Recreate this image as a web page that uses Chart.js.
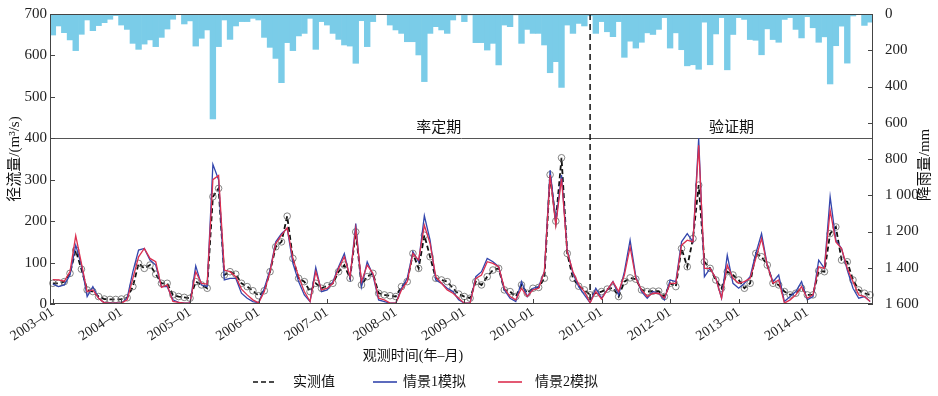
<!DOCTYPE html>
<html>
<head>
<meta charset="utf-8">
<title>径流模拟</title>
<script src="https://cdn.jsdelivr.net/npm/chart.js"></script>
<style>
    html, body { margin: 0; padding: 0; background: #fff; }
    #wrap { width: 938px; height: 396px; }
</style>
</head>
<body>
<div id="wrap"><canvas id="runoffChart" width="938" height="396"></canvas></div>
<script>
// months 2003-01 .. 2014-12
const months = [];
for (let y = 2003; y <= 2014; y++) {
    for (let m = 1; m <= 12; m++) months.push(y + '–' + String(m).padStart(2, '0'));
}

// monthly rainfall, mm
const rainfall = [
    116, 66, 103, 143, 202, 112, 33, 92, 64, 48, 29, 9,
    61, 85, 162, 195, 166, 143, 180, 129, 83, 29, 3, 55,
    38, 177, 134, 88, 579, 180, 33, 140, 66, 42, 42, 24,
    33, 129, 184, 245, 379, 158, 202, 121, 107, 24, 195, 42,
    61, 107, 140, 171, 177, 272, 37, 180, 42, 2, 3, 61,
    88, 107, 153, 153, 226, 373, 107, 70, 88, 107, 33, 5,
    42, 5, 158, 158, 199, 162, 281, 61, 70, 5, 162, 85,
    107, 107, 171, 324, 263, 405, 61, 107, 52, 66, 10, 107,
    42, 98, 125, 42, 239, 150, 188, 156, 104, 113, 85, 20,
    188, 104, 197, 286, 280, 305, 45, 280, 110, 20, 308, 113,
    20, 30, 141, 145, 225, 82, 141, 156, 30, 20, 85, 132,
    15, 76, 156, 126, 386, 175, 67, 271, 11, 2, 63, 45
];

// observed runoff, m3/s
const observed = [
    50, 50, 54, 74, 130, 84, 34, 30, 18, 12, 11, 11,
    12, 15, 42, 98, 86, 94, 72, 50, 50, 22, 18, 16,
    14, 54, 46, 38, 259, 279, 70, 78, 72, 50, 42, 32,
    20, 32, 78, 138, 150, 212, 110, 62, 54, 30, 50, 38,
    44, 50, 78, 94, 62, 174, 46, 66, 74, 26, 22, 20,
    18, 42, 54, 122, 86, 166, 114, 62, 58, 54, 38, 24,
    18, 14, 54, 46, 66, 82, 86, 34, 30, 18, 46, 26,
    38, 40, 62, 312, 200, 353, 122, 62, 43, 34, 22, 26,
    30, 36, 39, 18, 54, 63, 60, 34, 30, 31, 31, 18,
    50, 42, 134, 90, 158, 287, 102, 86, 58, 38, 78, 70,
    58, 38, 50, 122, 114, 94, 50, 46, 30, 22, 26, 38,
    22, 22, 80, 78, 170, 186, 106, 102, 58, 34, 26, 22
];

// scenario 1 simulation
const scenario1 = [
    48, 42, 46, 70, 142, 94, 18, 42, 14, 3, 2, 2,
    2, 14, 78, 130, 134, 106, 94, 42, 42, 10, 4, 2,
    2, 92, 46, 42, 337, 300, 58, 62, 62, 26, 14, 6,
    3, 38, 82, 150, 170, 182, 98, 54, 22, 6, 88, 30,
    34, 54, 90, 122, 62, 194, 42, 102, 70, 10, 6, 2,
    2, 38, 62, 126, 102, 213, 154, 58, 50, 38, 30, 10,
    2, 2, 66, 78, 110, 102, 90, 34, 14, 6, 54, 18,
    38, 42, 78, 323, 198, 311, 130, 74, 42, 22, 3, 38,
    14, 34, 54, 22, 78, 154, 66, 30, 14, 30, 26, 10,
    58, 54, 150, 170, 150, 400, 66, 86, 62, 14, 118, 50,
    38, 50, 66, 122, 170, 94, 54, 70, 6, 18, 30, 54,
    10, 18, 106, 86, 259, 154, 134, 82, 38, 14, 18, 6
];

// scenario 2 simulation
const scenario2 = [
    59, 58, 55, 78, 165, 98, 30, 34, 14, 3, 2, 2,
    2, 10, 62, 114, 134, 110, 102, 40, 46, 6, 4, 2,
    2, 78, 50, 48, 300, 310, 82, 78, 66, 36, 22, 10,
    3, 30, 78, 146, 166, 184, 110, 66, 30, 6, 78, 34,
    38, 50, 86, 114, 66, 182, 54, 94, 74, 14, 10, 2,
    2, 34, 54, 122, 106, 190, 146, 66, 50, 34, 26, 14,
    2, 2, 62, 70, 102, 98, 90, 38, 18, 10, 38, 18,
    34, 38, 78, 311, 190, 303, 126, 78, 47, 30, 3, 30,
    12, 34, 54, 30, 70, 138, 62, 34, 18, 26, 26, 14,
    50, 50, 142, 154, 150, 383, 86, 86, 62, 14, 94, 62,
    50, 54, 62, 110, 158, 94, 50, 58, 2, 10, 22, 42,
    14, 22, 90, 86, 226, 150, 134, 86, 54, 22, 18, 6
];

const splitMonth = '2010–11';
const periodLabels = ['率定期', '验证期'];

const SERIF = "'Liberation Serif', 'Noto Sans CJK SC', serif";
const CJK = "'Noto Sans CJK SC', sans-serif";
Chart.defaults.font.family = SERIF;
Chart.defaults.color = '#222';

// box, inward ticks, split line, titles and legend
const decorations = {
    id: 'decorations',
    afterDatasetsDraw(chart) {
        const { ctx, chartArea: a, scales } = chart;
        ctx.save();

        // dashed split line
        const sx = scales.x.getPixelForValue(months.indexOf(splitMonth));
        ctx.strokeStyle = '#111';
        ctx.lineWidth = 1.5;
        ctx.setLineDash([6, 4]);
        ctx.beginPath();
        ctx.moveTo(sx, a.top);
        ctx.lineTo(sx, a.bottom);
        ctx.stroke();
        ctx.setLineDash([]);

        // frame
        ctx.strokeStyle = '#444';
        ctx.lineWidth = 1;
        ctx.strokeRect(Math.round(a.left) + 0.5, Math.round(a.top) + 0.5,
            Math.round(a.width) - 1, Math.round(a.height) - 1);

        // inward ticks
        ctx.beginPath();
        scales.y.ticks.forEach(t => {
            const py = Math.round(scales.y.getPixelForValue(t.value)) + 0.5;
            ctx.moveTo(a.left, py); ctx.lineTo(a.left + 5, py);
        });
        scales.y2.ticks.forEach(t => {
            const py = Math.round(scales.y2.getPixelForValue(t.value)) + 0.5;
            ctx.moveTo(a.right, py); ctx.lineTo(a.right - 5, py);
        });
        months.forEach((m, i) => {
            if (i % 12) return;
            const px = Math.round(scales.x.getPixelForValue(i)) + 0.5;
            ctx.moveTo(px, a.bottom); ctx.lineTo(px, a.bottom - 5);
        });
        ctx.stroke();

        ctx.fillStyle = '#111';
        ctx.textBaseline = 'middle';
        ctx.textAlign = 'center';

        // period labels
        const yLine = scales.y.getPixelForValue(400);
        ctx.font = '15px ' + CJK;
        ctx.fillText(periodLabels[0], a.left + (sx - a.left) * 0.72, yLine - 12);
        ctx.fillText(periodLabels[1], (sx + a.right) / 2, yLine - 12);

        // right axis title
        ctx.save();
        ctx.translate(925, (a.top + a.bottom) / 2 + 6);
        ctx.rotate(-Math.PI / 2);
        ctx.font = '15px ' + SERIF;
        ctx.fillText('降雨量/mm', 0, 0);
        ctx.restore();

        // x axis title
        ctx.font = '14px ' + SERIF;
        ctx.fillText('观测时间(年–月)', 413, 356);

        // legend
        const slots = [[253, 293], [373, 403], [498, 535]];
        const ly = 382;
        chart.data.datasets.filter(d => d.type === 'line').forEach((d, i) => {
            const [lx, tx] = slots[i];
            ctx.strokeStyle = d.borderColor;
            ctx.lineWidth = 1.6;
            ctx.setLineDash(d.borderDash || []);
            ctx.beginPath();
            ctx.moveTo(lx, ly); ctx.lineTo(lx + 24, ly);
            ctx.stroke();
            ctx.setLineDash([]);
            ctx.textAlign = 'left';
            ctx.font = '14px ' + SERIF;
            ctx.fillText(d.label, tx, ly);
        });

        ctx.restore();
    }
};

new Chart(document.getElementById('runoffChart'), {
    type: 'bar',
    data: {
        labels: months,
        datasets: [
            {
                type: 'line',
                label: '实测值',
                data: observed,
                yAxisID: 'y',
                borderColor: '#111',
                borderDash: [5, 3],
                borderWidth: 1.8,
                pointRadius: 3.3,
                pointBorderColor: '#666',
                pointBorderWidth: 0.8,
                pointBackgroundColor: 'rgba(255,255,255,0)',
                tension: 0,
                order: 3
            },
            {
                type: 'line',
                label: '情景1模拟',
                data: scenario1,
                yAxisID: 'y',
                borderColor: '#3346ad',
                borderWidth: 1.3,
                pointRadius: 0,
                tension: 0,
                order: 2
            },
            {
                type: 'line',
                label: '情景2模拟',
                data: scenario2,
                yAxisID: 'y',
                borderColor: '#dc2f50',
                borderWidth: 1.3,
                pointRadius: 0,
                tension: 0,
                order: 1
            },
            {
                type: 'bar',
                label: '降雨量',
                data: rainfall,
                yAxisID: 'y2',
                backgroundColor: 'rgb(122, 204, 232)',
                borderWidth: 0,
                barPercentage: 1,
                categoryPercentage: 1,
                order: 4
            }
        ]
    },
    options: {
        responsive: false,
        animation: false,
        layout: { padding: { top: 14, left: 0, right: 0, bottom: 0 } },
        plugins: {
            legend: { display: false },
            tooltip: { enabled: false }
        },
        scales: {
            x: {
                offset: true,
                grid: { display: false },
                border: { display: false },
                ticks: {
                    autoSkip: false,
                    minRotation: 33,
                    maxRotation: 33,
                    padding: -8,
                    font: { size: 14 },
                    callback: (v, i) => (i % 12 === 0 ? months[i] : '')
                },
                afterFit: s => { s.height = 92; }
            },
            y: {
                position: 'left',
                min: 0,
                max: 700,
                ticks: { stepSize: 100, padding: 3, font: { size: 15 } },
                grid: {
                    drawTicks: false,
                    lineWidth: 1,
                    color: c => (c.tick && c.tick.value === 400 ? '#555' : 'rgba(0,0,0,0)')
                },
                border: { display: false },
                title: {
                    display: true,
                    text: '径流量/(m³/s)',
                    font: { size: 15 },
                    color: '#111',
                    padding: { top: 6, bottom: 0 }
                },
                afterFit: s => { s.width = 50; }
            },
            y2: {
                position: 'right',
                reverse: true,
                min: 0,
                max: 1600,
                ticks: {
                    stepSize: 200,
                    padding: 4,
                    font: { size: 15 },
                    callback: v => (v >= 1000 ? String(v).replace(/(\d)(\d{3})$/, '$1 $2') : v)
                },
                grid: { display: false },
                border: { display: false },
                afterFit: s => { s.width = 65; }
            }
        }
    },
    plugins: [decorations]
});
</script>
</body>
</html>
